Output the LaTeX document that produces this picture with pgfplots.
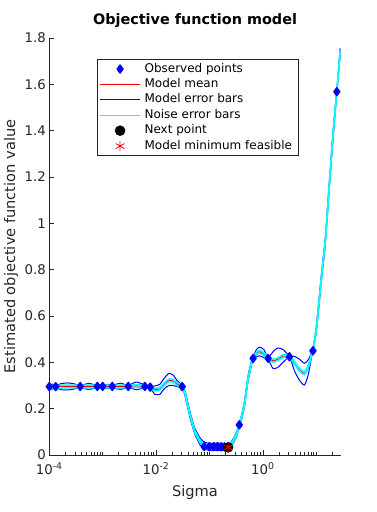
\documentclass[border=0pt]{standalone}
\usepackage{fontspec}
\setmainfont{DejaVu Sans}
\usepackage{pgfplots}
\pgfplotsset{compat=1.18}
\usepackage{pgfplotstable}
\definecolor{axgray}{rgb}{0.15,0.15,0.15}
\definecolor{mblue}{rgb}{0,0,1}
\definecolor{mcyan}{rgb}{0,1,1}
\definecolor{mred}{rgb}{1,0,0}

\pgfplotstableread{
lx      mean   mu     ml     nu     nl
-4.00  0.295  0.300  0.290  0.301  0.289
-3.94  0.295  0.306  0.284  0.301  0.289
-3.88  0.295  0.300  0.290  0.301  0.289
-3.78  0.295  0.308  0.282  0.301  0.289
-3.65  0.296  0.311  0.281  0.302  0.290
-3.53  0.296  0.307  0.285  0.302  0.290
-3.42  0.296  0.300  0.291  0.302  0.290
-3.26  0.296  0.309  0.283  0.302  0.290
-3.10  0.296  0.300  0.291  0.302  0.290
-3.05  0.296  0.302  0.289  0.302  0.290
-3.00  0.296  0.300  0.291  0.302  0.290
-2.91  0.296  0.305  0.287  0.302  0.290
-2.82  0.296  0.300  0.291  0.302  0.290
-2.67  0.296  0.310  0.283  0.302  0.290
-2.52  0.296  0.301  0.291  0.302  0.290
-2.37  0.298  0.315  0.282  0.304  0.292
-2.21  0.296  0.302  0.290  0.302  0.290
-2.16  0.294  0.300  0.287  0.300  0.288
-2.11  0.293  0.298  0.288  0.299  0.287
-2.02  0.283  0.298  0.262  0.289  0.277
-1.93  0.285  0.305  0.262  0.291  0.279
-1.85  0.305  0.330  0.285  0.311  0.299
-1.76  0.322  0.352  0.300  0.328  0.316
-1.68  0.320  0.345  0.300  0.326  0.314
-1.60  0.305  0.320  0.295  0.311  0.299
-1.51  0.295  0.300  0.290  0.301  0.289
-1.46  0.270  0.280  0.258  0.276  0.264
-1.41  0.220  0.232  0.207  0.226  0.214
-1.36  0.170  0.183  0.157  0.176  0.164
-1.31  0.130  0.143  0.117  0.136  0.124
-1.27  0.100  0.114  0.088  0.106  0.094
-1.22  0.078  0.092  0.064  0.084  0.072
-1.18  0.060  0.075  0.045  0.066  0.054
-1.12  0.045  0.060  0.030  0.051  0.039
-1.05  0.038  0.052  0.022  0.044  0.032
-0.95  0.036  0.050  0.020  0.042  0.030
-0.85  0.036  0.052  0.020  0.042  0.030
-0.75  0.035  0.050  0.020  0.041  0.029
-0.65  0.035  0.045  0.025  0.041  0.029
-0.58  0.050  0.060  0.040  0.056  0.044
-0.53  0.070  0.080  0.060  0.076  0.064
-0.49  0.090  0.100  0.080  0.096  0.084
-0.44  0.130  0.136  0.124  0.136  0.124
-0.39  0.170  0.180  0.160  0.176  0.164
-0.34  0.224  0.236  0.212  0.230  0.218
-0.28  0.324  0.336  0.312  0.330  0.318
-0.21  0.400  0.410  0.390  0.406  0.394
-0.18  0.417  0.421  0.413  0.423  0.411
-0.12  0.437  0.455  0.425  0.443  0.431
-0.06  0.446  0.465  0.428  0.452  0.440
0.02   0.435  0.455  0.420  0.441  0.429
0.10   0.417  0.421  0.413  0.423  0.411
0.19   0.407  0.445  0.374  0.413  0.401
0.28   0.413  0.462  0.378  0.419  0.407
0.38   0.427  0.455  0.400  0.433  0.421
0.50   0.424  0.428  0.420  0.430  0.418
0.60   0.396  0.425  0.360  0.402  0.390
0.69   0.367  0.413  0.322  0.373  0.361
0.78   0.353  0.396  0.302  0.359  0.347
0.85   0.381  0.410  0.345  0.387  0.375
0.91   0.430  0.440  0.418  0.436  0.424
0.94   0.450  0.454  0.446  0.456  0.444
1.00   0.540  0.552  0.528  0.546  0.534
1.05   0.650  0.665  0.635  0.656  0.644
1.10   0.770  0.785  0.755  0.776  0.764
1.168  0.915  0.930  0.900  0.921  0.909
1.22   1.080  1.095  1.065  1.086  1.074
1.27   1.240  1.255  1.225  1.246  1.234
1.323  1.400  1.415  1.385  1.406  1.394
1.387  1.568  1.573  1.563  1.574  1.562
1.449  1.740  1.755  1.725  1.746  1.734
}\model

\pgfplotstableread{
lx     y
-4.00  0.295
-3.88  0.295
-3.42  0.296
-3.10  0.296
-3.00  0.296
-2.82  0.296
-2.52  0.296
-2.21  0.296
-2.11  0.293
-1.51  0.295
-1.10  0.036
-1.00  0.036
-0.92  0.036
-0.85  0.036
-0.78  0.035
-0.72  0.035
-0.65  0.035
-0.44  0.130
-0.18  0.417
0.10   0.417
0.50   0.424
0.94   0.450
1.387  1.568
}\obs

\begin{document}
\begin{tikzpicture}
\path[use as bounding box] (0,0) rectangle (377bp,512bp);
\begin{axis}[
  at={(49.3bp,57bp)}, anchor=south west,
  scale only axis, width=291.4bp, height=417bp,
  xmin=-4, xmax=1.46, ymin=0, ymax=1.8,
  axis x line*=bottom, axis y line*=left,
  axis line style={-, draw=axgray, line width=0.5bp},
  tick style={draw=axgray, line width=0.5bp},
  major tick length=5bp, minor tick length=3bp,
  tick align=inside,
  xtick={-4,-2,0},
  xticklabels={10\textsuperscript{-4},10\textsuperscript{-2},10\textsuperscript{0}},
  minor xtick={-3.699,-3.523,-3.398,-3.301,-3.222,-3.155,-3.097,-3.046,-3,
    -2.699,-2.523,-2.398,-2.301,-2.222,-2.155,-2.097,-2.046,
    -1.699,-1.523,-1.398,-1.301,-1.222,-1.155,-1.097,-1.046,-1,
    -0.699,-0.523,-0.398,-0.301,-0.222,-0.155,-0.097,-0.046,
    0.301,0.477,0.602,0.699,0.778,0.845,0.903,0.954,1,1.301},
  ytick={0,0.2,0.4,0.6,0.8,1,1.2,1.4,1.6,1.8},
  /pgf/number format/assume math mode=true,
  ticklabel style={font=\fontsize{13.3bp}{16bp}\selectfont, text=axgray},
  xticklabel style={yshift=-4bp},
  xlabel={Sigma},
  xlabel style={at={(axis description cs:0.5,-0.0904)}, anchor=center,
    font=\fontsize{14.6bp}{17bp}\selectfont, text=axgray},
  ylabel={Estimated objective function value},
  ylabel style={at={(axis description cs:-0.1314,0.5)}, anchor=center,
    font=\fontsize{14.6bp}{17bp}\selectfont, text=axgray},
  title={Objective function model},
  title style={at={(axis description cs:0.5,1.027)}, anchor=center,
    font=\bfseries\fontsize{14.4bp}{17bp}\selectfont},
  legend image code/.code={\draw[mark repeat=2,mark phase=2,#1] plot coordinates {(0bp,0bp)(20bp,0bp)(40bp,0bp)};},
  legend style={at={(axis description cs:0.1627,0.9489)}, anchor=north west,
    draw=axgray, line width=0.5bp, fill=white,
    font=\fontsize{12bp}{14bp}\selectfont,
    inner xsep=2.6bp, inner ysep=1.8bp, row sep=0bp,
    nodes={inner xsep=4bp, inner ysep=0bp, text height=9bp, text depth=3bp, minimum height=15.4bp}},
  legend cell align=left,
]
\addplot[mblue, only marks, mark=diamond*, mark size=4bp, mark options={line width=1.4bp, line join=round, fill=mblue}, forget plot] table[x=lx,y=y]{\obs};
\addplot[mred, line width=1bp, smooth, tension=0.4, forget plot] table[x=lx,y=mean]{\model};
\addplot[mblue, line width=1bp, smooth, tension=0.4, forget plot] table[x=lx,y=mu]{\model};
\addplot[mblue, line width=1bp, smooth, tension=0.4, forget plot] table[x=lx,y=ml]{\model};
\addplot[mcyan, line width=1.5bp, smooth, tension=0.4, forget plot] table[x=lx,y=nu]{\model};
\addplot[mcyan, line width=1.5bp, smooth, tension=0.4, forget plot] table[x=lx,y=nl]{\model};
\addplot[black, only marks, mark=*, mark size=5bp, forget plot] coordinates {(-0.65,0.033)};
\addplot[mred, only marks, mark=asterisk, mark size=5bp, mark options={line width=0.8bp}, forget plot] coordinates {(-0.65,0.033)};

\addlegendimage{only marks, mark=diamond*, mblue, mark size=4bp, mark options={line width=1.4bp, line join=round, fill=mblue}}
\addlegendentry{Observed points}
\addlegendimage{mred, line width=1bp}
\addlegendentry{Model mean}
\addlegendimage{mblue, line width=1bp}
\addlegendentry{Model error bars}
\addlegendimage{mcyan, line width=1bp}
\addlegendentry{Noise error bars}
\addlegendimage{only marks, mark=*, black, mark size=5bp}
\addlegendentry{Next point}
\addlegendimage{only marks, mark=asterisk, mred, mark size=5bp, mark options={line width=0.8bp}}
\addlegendentry{Model minimum feasible}
\end{axis}
\end{tikzpicture}
\end{document}
